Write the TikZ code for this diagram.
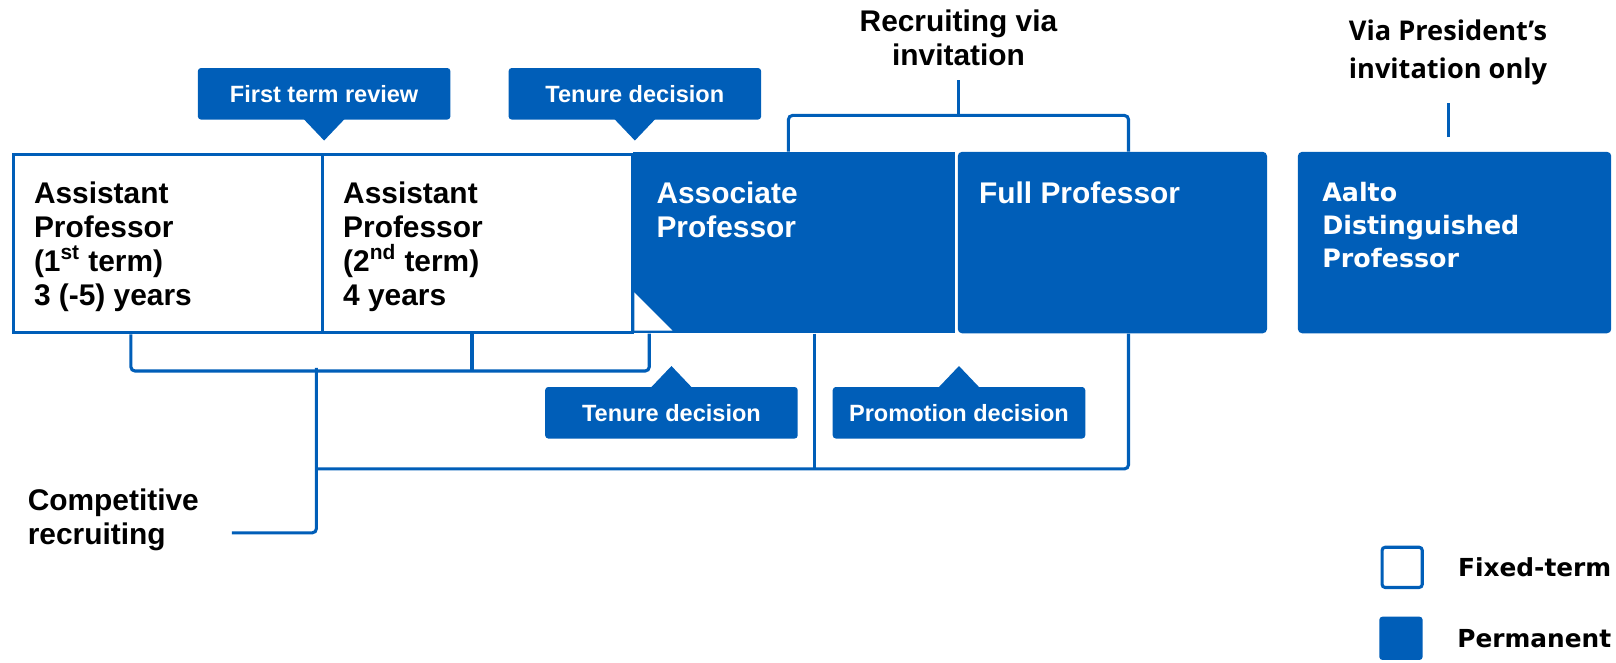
\documentclass[tikz,border=0pt]{standalone}
\usepackage{fontspec}
\setmainfont{Liberation Sans}
\newfontfamily\widefont{DejaVu Sans}
\newfontfamily\openfont{Open Sans}
\usetikzlibrary{positioning}

\definecolor{aaltoblue}{RGB}{0,94,184}

\tikzset{
    fixedbox/.style = {rectangle, draw = aaltoblue, fill = white, line width = 0.6mm, inner sep = 0pt, anchor = north west, minimum height = 34.6mm},
    permbox/.style  = {rectangle, fill = aaltoblue, inner sep = 0pt, anchor = north west, minimum height = 35.2mm},
    boxtext/.style  = {anchor = north west, inner sep = 0pt, outer sep = 0pt, align = left, font = \fontsize{16.5}{18.8}\selectfont\bfseries},
    headtext/.style = {inner sep = 0pt, align = center, font = \fontsize{16.5}{18.8}\selectfont\bfseries},
    callout/.style  = {rectangle, fill = aaltoblue, rounded corners = 0.6mm, text = white, minimum width = 49mm, minimum height = 10mm, inner sep = 0pt, font = \fontsize{13}{15}\selectfont\bfseries},
    link/.style     = {draw = aaltoblue, line width = 0.6mm, rounded corners = 0.8mm},
}

\begin{document}
\begin{tikzpicture}[x = 0.2mm, y = -0.2mm]

    \useasboundingbox (0,0) rectangle (1568,642.4);

    % the five positions
    \node (asst1) [fixedbox, minimum width = 60mm] at (11.5,148.5) {};
    \node (asst2) [fixedbox, minimum width = 60.2mm] at (311.5,148.5) {};
    \node (assoc) [permbox, minimum width = 62.4mm] at (614,147) {};
    \node (full)  [permbox, minimum width = 60mm, rounded corners = 0.8mm] at (929,147) {};
    \node (aalto) [permbox, minimum width = 60.8mm, rounded corners = 0.8mm] at (1259,147) {};

    \fill[white] ([xshift = 0.3mm, yshift = 0.6mm]assoc.south west) -- ++(0,-37) -- ++(37,37) -- cycle;

    \node (asst1txt) [boxtext, below right = 5.5mm and 4.3mm of asst1.north west] {Assistant\\Professor\\(1\textsuperscript{st} term)\\3 (-5) years};
    \node (asst2txt) [boxtext, below right = 5.5mm and 4.3mm of asst2.north west] {Assistant\\Professor\\(2\textsuperscript{nd} term)\\4 years};
    \node (assoctxt) [boxtext, text = white, below right = 5.8mm and 4.6mm of assoc.north west] {Associate\\Professor};
    \node (fulltxt)  [boxtext, text = white, below right = 5.8mm and 4.2mm of full.north west] {Full Professor};
    \node (aaltotxt) [boxtext, text = white, font = \fontsize{14}{18.2}\selectfont\widefont\bfseries, below right = 6mm and 4.8mm of aalto.north west] {Aalto\\Distinguished\\Professor};

    % decision callouts
    \node (review)  [callout] at (314.5,91) {First term review};
    \node (tenure1) [callout] at (616,91) {Tenure decision};
    \node (tenure2) [callout] at (651.5,400.5) {Tenure decision};
    \node (promo)   [callout] at (930.5,400.5) {Promotion decision};

    \foreach \c in {review, tenure1}
        \fill[aaltoblue] ([xshift = -4mm, yshift = 0.2mm]\c.south) -- ([yshift = -4mm]\c.south) -- ([xshift = 4mm, yshift = 0.2mm]\c.south) -- cycle;
    \foreach \c in {tenure2, promo}
        \fill[aaltoblue] ([xshift = -4mm, yshift = -0.2mm]\c.north) -- ([yshift = 4mm]\c.north) -- ([xshift = 4mm, yshift = -0.2mm]\c.north) -- cycle;

    % recruiting routes
    \node (recr) [headtext] at (930,37) {Recruiting via\\invitation};
    \node (pres) [headtext, font = \fontsize{15}{21.4}\selectfont\openfont\bfseries] at (1405,51) {Via President’s\\invitation only};
    \node (comp) [boxtext] at (27,474) {Competitive\\recruiting};

    \coordinate (invbar)  at (930,112);
    \coordinate (tee)     at (307,357);
    \coordinate (basebar) at (0,455);
    \coordinate (compend) at (225,517);

    \draw[link] ([xshift = 30.2mm]assoc.north west) |- (invbar) -| ([xshift = 33.2mm]full.north west);
    \draw[link] (invbar) -- ++(0,-34);
    \draw[link] ([xshift = -1.2mm, yshift = 2.8mm]aalto.north) -- ++(0,-33);

    \draw[link] ([xshift = 23.1mm]asst1.south west) -- ++(0,35.5) -| ([xshift = 3.2mm]assoc.south west);
    \draw[link] ([xshift = 29.3mm]asst2.south west) -- ++(0,35.5);
    \draw[link] (compend) -| (tee);
    \draw[link] (tee |- basebar) -| ([xshift = 33.2mm]full.south west);
    \draw[link] ([xshift = 35.2mm]assoc.south west) -- ++(0,132);

    % legend
    \node (fixkey)  [fixedbox, minimum width = 7.8mm, minimum height = 7.8mm, rounded corners = 0.6mm] at (1339.5,529.5) {};
    \node (permkey) [permbox, minimum width = 8.4mm, minimum height = 8.4mm, rounded corners = 0.6mm] at (1338,598) {};
    \node (fixlbl)  [headtext, font = \fontsize{13.7}{16}\selectfont\widefont\bfseries, right = 6.6mm of fixkey] {Fixed-term};
    \node (permlbl) [headtext, font = \fontsize{13.7}{16}\selectfont\widefont\bfseries, right = 6.6mm of permkey] {Permanent};

\end{tikzpicture}
\end{document}
